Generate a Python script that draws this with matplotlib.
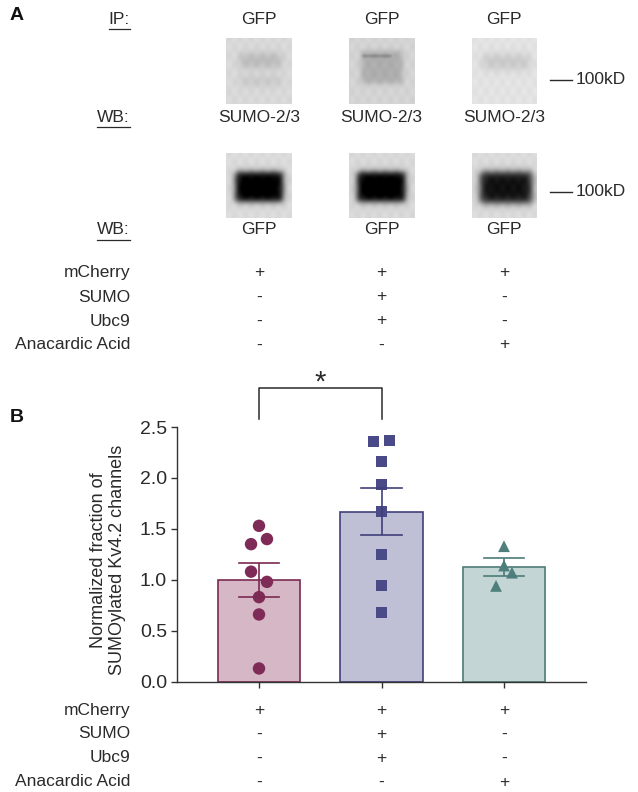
import numpy as np
import matplotlib
matplotlib.use("Agg")
import matplotlib.pyplot as plt
from matplotlib.lines import Line2D

plt.rcParams['font.family'] = ['Liberation Sans', 'DejaVu Sans']

# ---------------- data ----------------
conditions = ["mCherry", "SUMO", "Ubc9", "Anacardic Acid"]
signs = [["+", "+", "+"],
         ["-", "+", "-"],
         ["-", "+", "-"],
         ["-", "-", "+"]]
ip_labels = ["GFP", "GFP", "GFP"]
wb_top_labels = ["SUMO-2/3", "SUMO-2/3", "SUMO-2/3"]
wb_bot_labels = ["GFP", "GFP", "GFP"]
marker_label = "100kD"

bar_means = [1.0, 1.67, 1.125]
bar_sem = [0.165, 0.23, 0.085]
pts_ctrl = [1.53, 1.40, 1.35, 1.08, 0.98, 0.83, 0.66, 0.13]
jit_ctrl = [0, 1, -1, -1, 1, 0, 0, 0]
pts_sumo = [2.36, 2.37, 2.16, 1.94, 1.67, 1.25, 0.94, 0.68]
jit_sumo = [-1, 1, 0, 0, 0, 0, 0, 0]
pts_ana = [1.33, 1.14, 1.07, 0.94]
jit_ana = [0, 0, 1, -1]
yticks = [0.0, 0.5, 1.0, 1.5, 2.0, 2.5]
ylabel = "Normalized fraction of\nSUMOylated Kv4.2 channels"

fills = ['#d5b7c5', '#bfbfd5', '#c3d6d5']
edges = ['#7a2a52', '#3f3f7a', '#4d7c7a']
mcols = ['#7e2c57', '#4a4a88', '#4f7f7c']
markers = ['o', 's', '^']

W, H = 638, 792
fig = plt.figure(figsize=(W / 100, H / 100), dpi=100)

def fx(x):
    return x / W

def fy(y):
    return 1 - y / H

FS = 12.5
TXT = '#2a2a2a'
col_x = [259, 381.5, 504]

# ---------------- panel A ----------------
fig.text(fx(10), fy(16), "A", fontsize=14, fontweight='bold', va='center', ha='left', color='#111111')

def underlined(x, y, s):
    t = fig.text(fx(x), fy(y), s, fontsize=FS, ha='right', va='center', color=TXT)
    fig.canvas.draw()
    bb = t.get_window_extent(renderer=fig.canvas.get_renderer())
    x0, x1 = bb.x0 / fig.dpi / fig.get_figwidth(), bb.x1 / fig.dpi / fig.get_figwidth()
    yl = bb.y0 / fig.dpi / fig.get_figheight() - 0.003
    fig.add_artist(Line2D([x0, x1], [yl, yl], color=TXT, lw=0.9, transform=fig.transFigure))

underlined(130, 19, "IP:")
underlined(130, 117, "WB:")
underlined(130, 230, "WB:")
for i in range(3):
    fig.text(fx(col_x[i]), fy(19), ip_labels[i], fontsize=FS, ha='center', va='center', color=TXT)
    fig.text(fx(col_x[i]), fy(117), wb_top_labels[i], fontsize=FS, ha='center', va='center', color=TXT)
    fig.text(fx(col_x[i]), fy(230), wb_bot_labels[i], fontsize=FS, ha='center', va='center', color=TXT)

# blot images (synthetic renderings of the band pattern)
def make_blot(bg, bands, h=66, w=66):
    yy, xx = np.mgrid[0:h, 0:w]
    yy = yy / (h - 1)
    xx = xx / (w - 1)
    img = np.full((h, w), bg)
    for (yc, hh, x0, x1, depth, soft) in bands:
        vy = 0.5 * (np.tanh((yy - (yc - hh)) / soft) - np.tanh((yy - (yc + hh)) / soft))
        vx = 0.5 * (np.tanh((xx - x0) / soft) - np.tanh((xx - x1) / soft))
        img = img - depth * vy * vx
    img = img - 0.015 * np.sin(xx * 37.0) * np.cos(yy * 23.0)
    return np.clip(img, 0, 1)

top_blots = [
    make_blot(0.85, [(0.35, 0.11, 0.2, 0.85, 0.12, 0.07), (0.66, 0.07, 0.2, 0.85, 0.07, 0.07)]),
    make_blot(0.83, [(0.45, 0.25, 0.18, 0.82, 0.15, 0.05), (0.28, 0.015, 0.2, 0.65, 0.22, 0.02)]),
    make_blot(0.89, [(0.37, 0.11, 0.15, 0.9, 0.11, 0.08)]),
]
bot_blots = [
    make_blot(0.86, [(0.52, 0.23, 0.14, 0.87, 0.88, 0.06)]),
    make_blot(0.85, [(0.52, 0.23, 0.12, 0.86, 0.88, 0.06)]),
    make_blot(0.86, [(0.53, 0.24, 0.12, 0.93, 0.80, 0.07)]),
]
blot_x = [(226, 292), (349, 414), (472, 537)]
for row, (yt, yb) in enumerate([(38, 104), (153, 218)]):
    imgs = top_blots if row == 0 else bot_blots
    for i, (x0, x1) in enumerate(blot_x):
        axb = fig.add_axes([fx(x0), fy(yb), fx(x1 - x0), (yb - yt) / H])
        axb.imshow(imgs[i], cmap='gray', vmin=0, vmax=1, aspect='auto', interpolation='bilinear')
        axb.axis('off')

for ym in (80, 192):
    fig.add_artist(Line2D([fx(550), fx(572)], [fy(ym), fy(ym)], color=TXT, lw=1.0, transform=fig.transFigure))
    fig.text(fx(576), fy(ym), marker_label, fontsize=FS, ha='left', va='center', color=TXT)

def cond_table(y0):
    for r, name in enumerate(conditions):
        y = y0 + 24 * r
        fig.text(fx(130), fy(y), name, fontsize=FS, ha='right', va='center', color=TXT)
        for i in range(3):
            fig.text(fx(col_x[i]), fy(y), signs[r][i], fontsize=FS, ha='center', va='center', color=TXT)

cond_table(273)

# ---------------- panel B ----------------
fig.text(fx(10), fy(418), "B", fontsize=14, fontweight='bold', va='center', ha='left', color='#111111')

ax_l, ax_r, ax_b, ax_t = 176.7, 586, 681.7, 427
ax = fig.add_axes([fx(ax_l), fy(ax_b), (ax_r - ax_l) / W, (ax_b - ax_t) / H])
spacing = (col_x[2] - col_x[0]) / 2
ax.set_xlim((ax_l - col_x[0]) / spacing, 2 + (ax_r - col_x[2]) / spacing)
ax.set_ylim(0, 2.5)

xpos = np.arange(3)
ax.bar(xpos, bar_means, width=0.67, color=fills, edgecolor=edges, linewidth=1.2, zorder=2)

groups = [(pts_ctrl, jit_ctrl), (pts_sumo, jit_sumo), (pts_ana, jit_ana)]
msizes = [80, 62, 72]
for i, (pts, jit) in enumerate(groups):
    xs = xpos[i] + np.array(jit) * 0.065
    ax.scatter(xs, pts, s=msizes[i], marker=markers[i], color=mcols[i], edgecolors='none', zorder=3)
    ax.errorbar(xpos[i], bar_means[i], yerr=bar_sem[i], color=edges[i], capsize=0,
                elinewidth=1.2, zorder=4)
    ax.plot([xpos[i] - 0.165, xpos[i] + 0.165], [bar_means[i] + bar_sem[i]] * 2, color=edges[i], lw=1.2, zorder=4)
    ax.plot([xpos[i] - 0.165, xpos[i] + 0.165], [bar_means[i] - bar_sem[i]] * 2, color=edges[i], lw=1.2, zorder=4)

# significance bracket
ax.plot([0, 0, 1, 1], [2.58, 2.88, 2.88, 2.58], color=TXT, lw=1.1, clip_on=False)
ax.text(0.5, 2.94, "*", fontsize=21, ha='center', va='center', color=TXT, clip_on=False)

for s in ['top', 'right']:
    ax.spines[s].set_visible(False)
for s in ['left', 'bottom']:
    ax.spines[s].set_color('#333333')
    ax.spines[s].set_linewidth(1.0)
ax.set_yticks(yticks)
ax.set_yticklabels([f"{v:.1f}" for v in yticks], fontsize=FS + 1.5, color=TXT)
ax.set_xticks(xpos)
ax.set_xticklabels([])
ax.tick_params(axis='both', direction='out', length=4, width=1.0, color='#333333')
ax.tick_params(axis='y', pad=3)

fig.text(fx(108), fy(560), ylabel, rotation=90, fontsize=FS + 0.5, ha='center', va='center',
         multialignment='center', color=TXT, linespacing=1.15)

cond_table(710)

fig.savefig("out.png", dpi=100)
